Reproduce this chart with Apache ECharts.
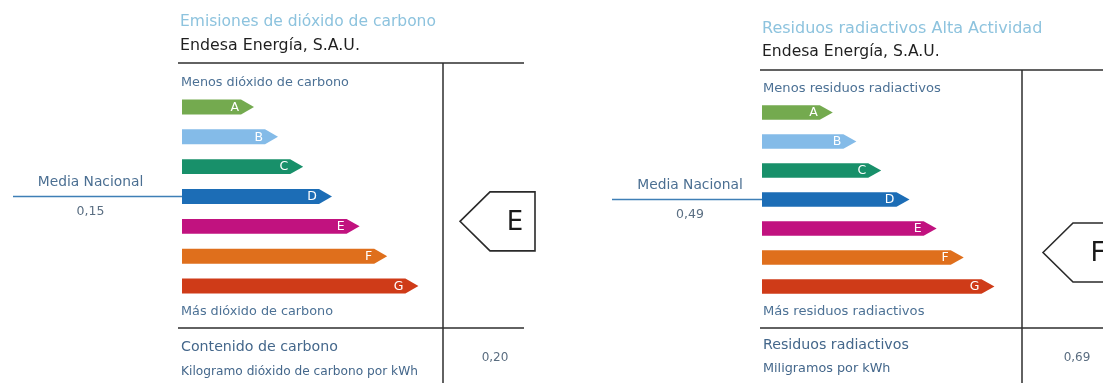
<!DOCTYPE html>
<html>
<head>
<meta charset="utf-8">
<script src="https://cdn.jsdelivr.net/npm/echarts@6/dist/echarts.min.js"></script>
<style>
  html, body { margin: 0; padding: 0; background: #ffffff; }
  #chart { width: 1103px; height: 383px; }
</style>
</head>
<body>
<div id="chart"></div>
<script>
// Energy-label classes, best to worst
const classes = ['A', 'B', 'C', 'D', 'E', 'F', 'G'];
const classColors = ['#74aa4f', '#84bbe8', '#18906a', '#1c6db6', '#c1127f', '#df6f1c', '#cf3b18'];
// Arrow length of each class on the label scale (0–10)
const arrowLengths = [3.0, 4.0, 5.05, 6.25, 7.4, 8.55, 9.85];

// Carbon dioxide panel
const co2Title = 'Emisiones de dióxido de carbono';
const co2Best = 'Menos dióxido de carbono';
const co2Worst = 'Más dióxido de carbono';
const co2Measure = 'Contenido de carbono';
const co2Unit = 'Kilogramo dióxido de carbono por kWh';
const co2NationalAverage = 0.15;
const co2NationalClass = 'D';
const co2CompanyValue = 0.20;
const co2CompanyClass = 'E';

// High-activity radioactive waste panel
const wasteTitle = 'Residuos radiactivos Alta Actividad';
const wasteBest = 'Menos residuos radiactivos';
const wasteWorst = 'Más residuos radiactivos';
const wasteMeasure = 'Residuos radiactivos';
const wasteUnit = 'Miligramos por kWh';
const wasteNationalAverage = 0.49;
const wasteNationalClass = 'D';
const wasteCompanyValue = 0.69;
const wasteCompanyClass = 'F';

const company = 'Endesa Energía, S.A.U.';
const averageLabel = 'Media Nacional';

const FONT = '"DejaVu Sans", "Liberation Sans", sans-serif';
const fmt = v => v.toFixed(2).replace('.', ',');

const chart = echarts.init(document.getElementById('chart'), null, { renderer: 'canvas' });

// Layout and type sizes of each panel
const panels = [
  {
    grid: { left: 182, top: 92, width: 240, height: 209 },
    frameLeft: 178, frameRight: 524, divider: 443, topLine: 63, bottomLine: 328,
    titleY: 22, companyY: 46, bestY: 83, worstY: 312, measureY: 347, unitY: 372, valueX: 495,
    sizes: { title: 15.5, company: 15.8, note: 12.8, measure: 14.2, unit: 12.2 },
    avgLineLen: 169, avgLabelShift: -7, pentagonOffset: 278, pentagonLift: 5,
    title: co2Title, best: co2Best, worst: co2Worst, measure: co2Measure, unit: co2Unit,
    avg: co2NationalAverage, avgClass: co2NationalClass, value: co2CompanyValue, rating: co2CompanyClass
  },
  {
    grid: { left: 762, top: 98, width: 236, height: 203 },
    frameLeft: 760, frameRight: 1103, divider: 1022, topLine: 70, bottomLine: 328,
    titleY: 29, companyY: 52, bestY: 89, worstY: 312, measureY: 345, unitY: 369, valueX: 1077,
    sizes: { title: 16, company: 15.6, note: 13.1, measure: 14.2, unit: 12.8 },
    avgLineLen: 150, avgLabelShift: 3, pentagonOffset: 281, pentagonLift: 5,
    title: wasteTitle, best: wasteBest, worst: wasteWorst, measure: wasteMeasure, unit: wasteUnit,
    avg: wasteNationalAverage, avgClass: wasteNationalClass, value: wasteCompanyValue, rating: wasteCompanyClass
  }
];

function renderArrow(params, api) {
  const idx = api.value(1);
  const start = api.coord([0, idx]);
  const end = api.coord([api.value(0), idx]);
  const band = api.size([0, 1])[1];
  const h = band * 0.5;
  const tip = 13;
  const y = start[1];
  const bodyEnd = end[0] - tip;
  return {
    type: 'group',
    children: [
      {
        type: 'polygon',
        shape: { points: [[start[0], y - h / 2], [bodyEnd, y - h / 2], [end[0], y], [bodyEnd, y + h / 2], [start[0], y + h / 2]] },
        style: { fill: classColors[idx] }
      },
      {
        type: 'text',
        style: {
          text: classes[idx], x: bodyEnd - 2, y: y + 0.5, align: 'right', verticalAlign: 'middle',
          fill: '#ffffff', font: '12.5px ' + FONT
        }
      }
    ]
  };
}

function makeAverageRenderer(panel) {
  return function (params, api) {
    const p = api.coord([0, api.value(1)]);
    const x0 = p[0] - panel.avgLineLen;
    const mid = (x0 + p[0]) / 2 + panel.avgLabelShift;
    return {
      type: 'group',
      children: [
        { type: 'line', shape: { x1: x0, y1: p[1], x2: p[0], y2: p[1] }, style: { stroke: '#3f7fb6', lineWidth: 1.5 } },
        { type: 'text', style: { text: averageLabel, x: mid, y: p[1] - 14, align: 'center', verticalAlign: 'middle', fill: '#4b6f92', font: '13.8px ' + FONT } },
        { type: 'text', style: { text: fmt(api.value(0)), x: mid, y: p[1] + 15, align: 'center', verticalAlign: 'middle', fill: '#5a6e82', font: '12.5px ' + FONT } }
      ]
    };
  };
}

function makeRatingRenderer(panel) {
  return function (params, api) {
    const idx = api.value(0);
    const p = api.coord([0, idx]);
    const x = p[0] + panel.pentagonOffset;
    const cy = p[1] - panel.pentagonLift;
    const hh = 29.5;
    return {
      type: 'group',
      children: [
        {
          type: 'polygon',
          shape: { points: [[x, cy], [x + 30, cy - hh], [x + 75, cy - hh], [x + 75, cy + hh], [x + 30, cy + hh]] },
          style: { fill: '#ffffff', stroke: '#2a2a2a', lineWidth: 1.6 }
        },
        { type: 'text', style: { text: classes[idx], x: x + 55, y: cy + 2, align: 'center', verticalAlign: 'middle', fill: '#1a1a1a', font: '26px ' + FONT } }
      ]
    };
  };
}

const grids = [], xAxes = [], yAxes = [], series = [], graphics = [];

panels.forEach((panel, i) => {
  grids.push(panel.grid);
  xAxes.push({ gridIndex: i, type: 'value', min: 0, max: 10, show: false });
  yAxes.push({ gridIndex: i, type: 'category', data: classes, inverse: true, show: false });

  series.push({
    type: 'custom', xAxisIndex: i, yAxisIndex: i, silent: true,
    renderItem: renderArrow,
    data: arrowLengths.map((len, k) => [len, k])
  });
  series.push({
    type: 'custom', xAxisIndex: i, yAxisIndex: i, silent: true,
    renderItem: makeAverageRenderer(panel),
    data: [[panel.avg, classes.indexOf(panel.avgClass)]]
  });
  series.push({
    type: 'custom', xAxisIndex: i, yAxisIndex: i, silent: true,
    renderItem: makeRatingRenderer(panel),
    data: [[classes.indexOf(panel.rating), classes.indexOf(panel.rating)]],
    encode: { x: -1, y: 1 }
  });

  const text = (t, x, y, size, color, align) => ({
    type: 'text', x, y, silent: true,
    style: { text: t, fill: color, font: size + 'px ' + FONT, align: align || 'left', verticalAlign: 'middle' }
  });
  const line = (x1, y1, x2, y2) => ({
    type: 'line', silent: true, shape: { x1, y1, x2, y2 }, style: { stroke: '#2e2e2e', lineWidth: 1.5 }
  });

  const s = panel.sizes;
  graphics.push(
    text(panel.title, panel.frameLeft + 2, panel.titleY, s.title, '#8dc3de'),
    text(company, panel.frameLeft + 2, panel.companyY, s.company, '#1f1f1f'),
    line(panel.frameLeft, panel.topLine, panel.frameRight, panel.topLine),
    line(panel.divider, panel.topLine, panel.divider, 383),
    line(panel.frameLeft, panel.bottomLine, panel.frameRight, panel.bottomLine),
    text(panel.best, panel.frameLeft + 3, panel.bestY, s.note, '#4c7195'),
    text(panel.worst, panel.frameLeft + 3, panel.worstY, s.note, '#4c7195'),
    text(panel.measure, panel.frameLeft + 3, panel.measureY, s.measure, '#44678b'),
    text(panel.unit, panel.frameLeft + 3, panel.unitY, s.unit, '#44678b'),
    text(fmt(panel.value), panel.valueX, (panel.bottomLine + 383) / 2 + 2, 12, '#5a6d80', 'center')
  );
});

chart.setOption({
  animation: false,
  backgroundColor: '#ffffff',
  grid: grids,
  xAxis: xAxes,
  yAxis: yAxes,
  series,
  graphic: graphics
});
</script>
</body>
</html>
